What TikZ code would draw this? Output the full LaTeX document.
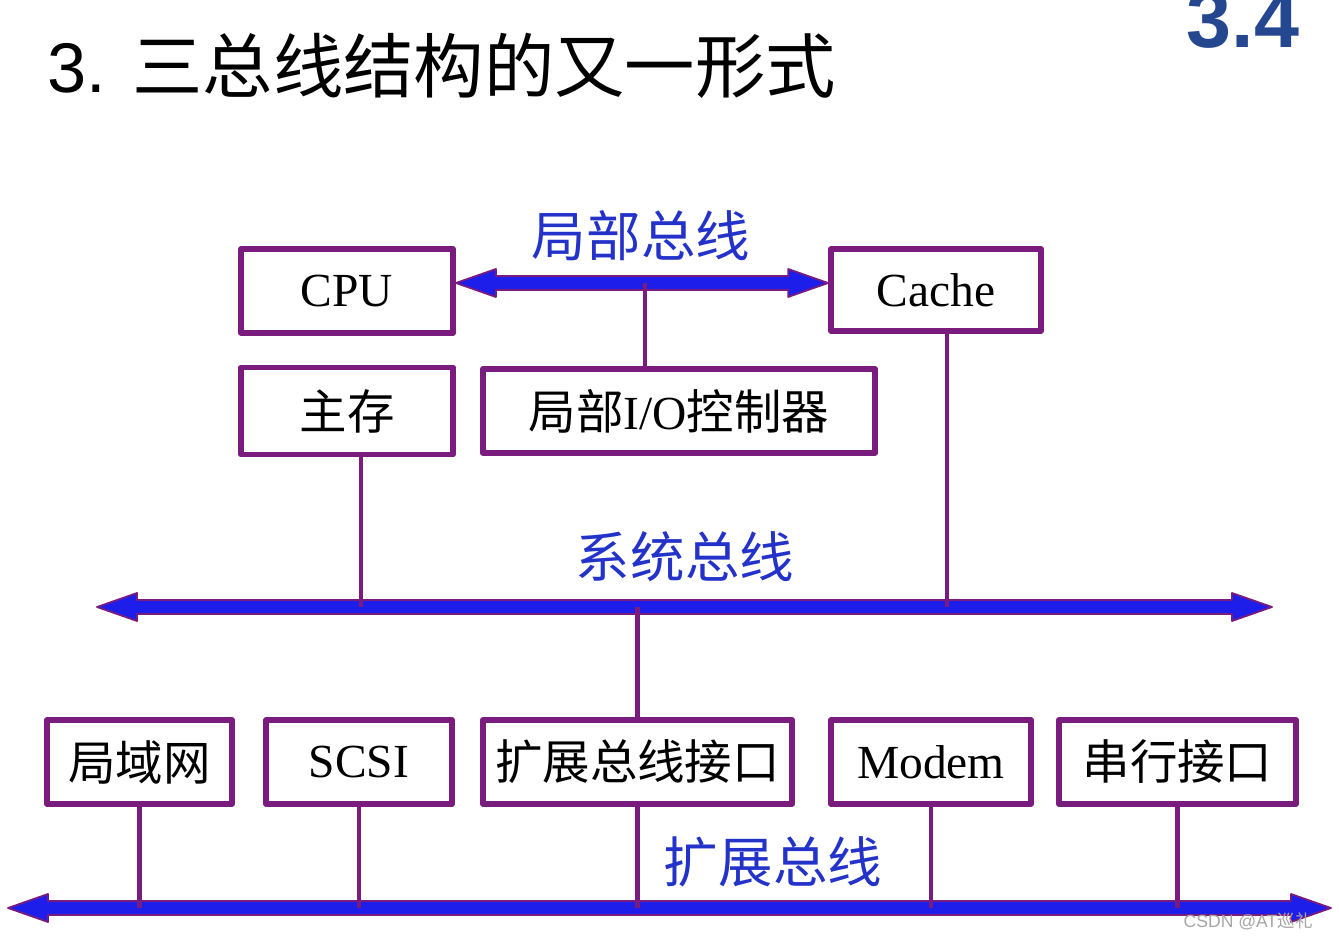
\documentclass[tikz,border=0pt]{standalone}
\usepackage{fontspec}
\setmainfont{Liberation Serif}
\newfontfamily\cjk{Noto Sans CJK SC}
\newfontfamily\arial{Liberation Sans}
\usetikzlibrary{calc}

\newcommand{\busarrow}[2]{%
  \filldraw[bus] (#1) -- ++(40,-14) -- ++(0,7) -- ($(#2)+(-40,-7)$) -- ++(0,-7) -- (#2)
    -- ++(-40,14) -- ++(0,-7) -- ($(#1)+(40,7)$) -- ++(0,7) -- cycle;}

\begin{document}
\begin{tikzpicture}[x=0.01cm, y=-0.01cm, line join=round,
    unit/.style={draw=cBox, line width=1.6pt, fill=white, inner sep=0pt,
      font=\fontsize{13.5}{16}\selectfont},
    wire/.style={draw=cBox, line width=1.4pt},
    bus/.style={fill=cBus, draw=cBox, line width=0.5pt},
    busname/.style={text=cLabel, font=\cjk\fontsize{15.5}{18}\selectfont}]
  \definecolor{cBox}{RGB}{122, 28, 126}
  \definecolor{cBus}{RGB}{30, 30, 235}
  \definecolor{cLabel}{RGB}{35, 50, 200}
  \definecolor{cNum}{RGB}{36, 71, 143}

  \useasboundingbox (0,0) rectangle (1339,937);

  \node[anchor=base west, inner sep=0pt, font=\fontsize{20}{24}\selectfont] (title) at (47,93)
    {\arial 3. \cjk 三总线结构的又一形式};
  \node[anchor=base east, inner sep=0pt, text=cNum, font=\arial\bfseries\fontsize{23}{28}\selectfont] (chap) at (1300,48) {3.4};

  \node[unit, minimum width=2.12cm, minimum height=0.84cm] (cpu) at (347,291) {CPU};
  \node[unit, minimum width=2.10cm, minimum height=0.82cm] (cache) at (936,290) {Cache};
  \node[unit, minimum width=2.12cm, minimum height=0.87cm] (mem) at (347,411) {\cjk 主存};
  \node[unit, minimum width=3.92cm, minimum height=0.84cm] (ioctl) at (679,411) {{\cjk 局部}I/O{\cjk 控制器}};

  \node[unit, minimum width=1.85cm, minimum height=0.84cm] (lan) at (139.5,762) {\cjk 局域网};
  \node[unit, minimum width=1.86cm, minimum height=0.84cm] (scsi) at (359,762) {SCSI};
  \node[unit, minimum width=3.09cm, minimum height=0.84cm] (bridge) at (637.5,762) {\cjk 扩展总线接口};
  \node[unit, minimum width=2.00cm, minimum height=0.84cm] (modem) at (931,762) {Modem};
  \node[unit, minimum width=2.37cm, minimum height=0.84cm] (serial) at (1177.5,762) {\cjk 串行接口};

  \node[busname] (lblLocal) at (641,236) {局部总线};
  \node[busname] (lblSys) at (685,557) {系统总线};
  \node[busname] (lblExt) at (773,862) {扩展总线};

  \coordinate (jLocal) at (645,283);
  \coordinate (locL) at (cpu.east |- jLocal);
  \coordinate (locR) at (cache.west |- jLocal);
  \coordinate (sysL) at (97,607);
  \coordinate (sysR) at (1272,607);
  \coordinate (extL) at (8,908);
  \coordinate (extR) at (1331,908);
  \coordinate (jMem) at (361,607);
  \coordinate (jCache) at (947,607);

  \busarrow{locL}{locR}
  \busarrow{sysL}{sysR}
  \busarrow{extL}{extR}

  \draw[wire] (jLocal) -- (jLocal |- ioctl.north);
  \draw[wire] (jMem |- mem.south) -- (jMem);
  \draw[wire] (jCache |- cache.south) -- (jCache);
  \draw[wire] (bridge.north |- sysL) -- (bridge.north);
  \foreach \n in {lan,scsi,bridge,modem,serial}
    \draw[wire] (\n.south) -- (\n.south |- extL);

  \node[anchor=east, text=black!35, font=\arial\fontsize{5}{6}\selectfont] (mark) at (1325,921) {CSDN @AT{\cjk 巡礼}};
\end{tikzpicture}
\end{document}
